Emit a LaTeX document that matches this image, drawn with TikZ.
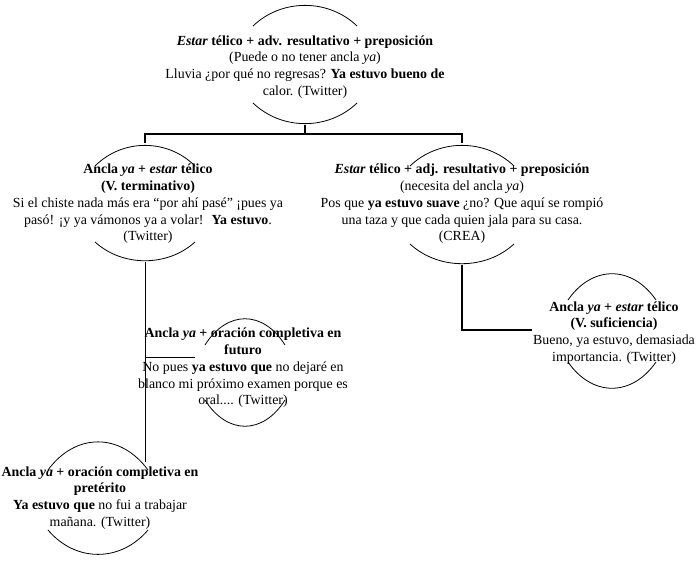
\documentclass[tikz,border=0pt]{standalone}
\usepackage{fontspec}
\setmainfont{Liberation Serif}
\begin{document}
\begin{tikzpicture}[x=1pt,y=-1pt,
  t/.style={align=center,font=\fontsize{13.9}{16.8}\selectfont,inner sep=0pt},
  arc/.style={line width=0.8pt},
  thin/.style={line width=0.8pt},
  thick/.style={line width=1.8pt}]
\useasboundingbox (0,0) rectangle (700,561);
\newcommand\toparc[4]{\draw[arc] (#1-#3,#2) .. controls (#1-#3*0.45,#2-#4*1.25) and (#1+#3*0.45,#2-#4*1.25) .. (#1+#3,#2);}
\newcommand\botarc[4]{\draw[arc] (#1-#3,#2) .. controls (#1-#3*0.45,#2+#4*1.25) and (#1+#3*0.45,#2+#4*1.25) .. (#1+#3,#2);}
% top
\toparc{305}{26}{52}{22}\botarc{305}{103}{52}{22}
\node[t] (n0) at (305,67) {\textbf{\textit{Estar} télico + adv. resultativo + preposición}\\(Puede o no tener ancla \textit{ya})\\Lluvia ¿por qué no regresas? \textbf{Ya estuvo bueno de}\\calor. (Twitter)};
% left
\toparc{145}{166}{50}{22}\botarc{145}{242}{50}{20}
\node[t] (n1) at (148,204) {\textbf{Ancla \textit{ya} + \textit{estar} télico}\\\textbf{(V. terminativo)}\\Si el chiste nada más era ``por ahí pasé'' ¡pues ya\\pasó! ¡y ya vámonos ya a volar! \ \textbf{Ya estuvo}.\\(Twitter)};
% right
\toparc{462}{166}{52}{22}\botarc{462}{244}{52}{21}
\node[t] (n2) at (462,204) {\textbf{\textit{Estar} télico + adj. resultativo + preposición}\\(necesita del ancla \textit{ya})\\Pos que \textbf{ya estuvo suave} ¿no? Que aquí se rompió\\una taza y que cada quien jala para su casa.\\(CREA)};
% right 2
\toparc{612}{300}{44}{28}\botarc{612}{362}{44}{28}
\node[t] (n3) at (614,333) {\textbf{Ancla \textit{ya} + \textit{estar} télico}\\\textbf{(V. suficiencia)}\\Bueno, ya estuvo, demasiada\\importancia. (Twitter)};
% futuro
\toparc{245}{345}{40}{28}\botarc{245}{400}{40}{28}
\node[t] (n4) at (243,368) {\textbf{Ancla \textit{ya} + oración completiva en}\\\textbf{futuro}\\No pues \textbf{ya estuvo que} no dejaré en\\blanco mi próximo examen porque es\\oral.... (Twitter)};
% preterito
\toparc{98}{470}{50}{30}\botarc{98}{530}{50}{26}
\node[t] (n5) at (100,498) {\textbf{Ancla \textit{ya} + oración completiva en}\\\textbf{pretérito}\\\textbf{Ya estuvo que} no fui a trabajar\\mañana. (Twitter)};
% connectors
\coordinate (a0) at (305,125);
\coordinate (j0) at (305,134);
\coordinate (a1) at (145,143);
\coordinate (a2) at (462,143);
\draw[thick] (a0) -- (j0);
\draw[thick] (a1) |- (j0) -| (a2);
\coordinate (b1) at (145,262);
\coordinate (c5) at (145,462);
\coordinate (j1) at (145,357);
\coordinate (c4) at (195,357);
\draw[thin] (b1) -- (c5);
\draw[thin] (j1) -- (c4);
\coordinate (b2) at (462,265);
\coordinate (c3) at (532,330);
\draw[thick] (b2) |- (c3);
\end{tikzpicture}
\end{document}
